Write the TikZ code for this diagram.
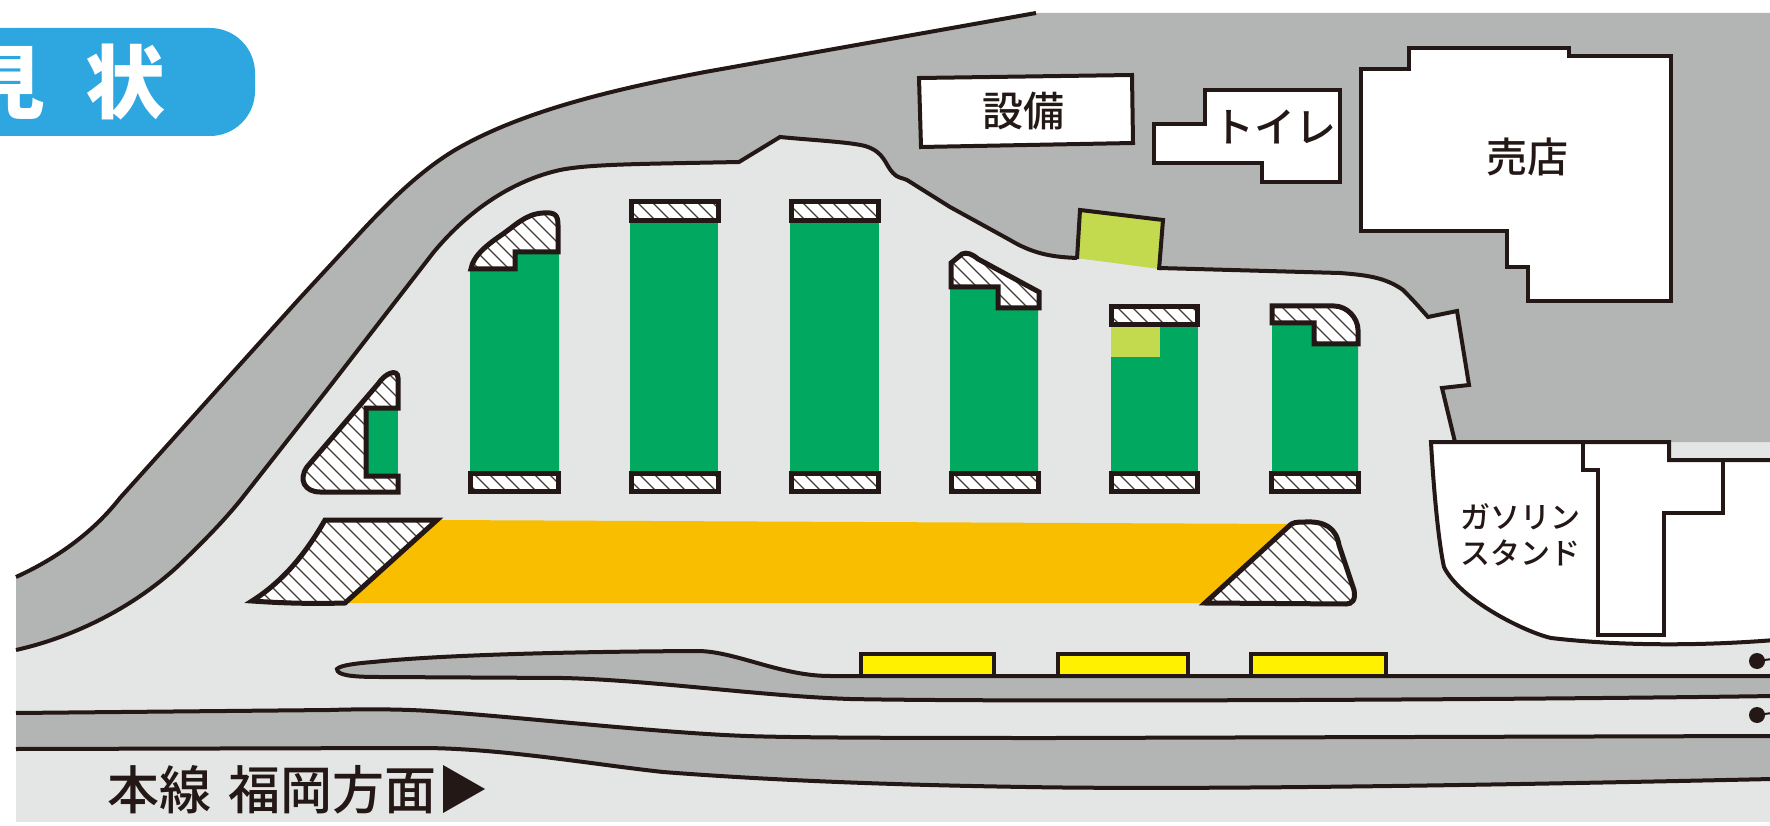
\documentclass[tikz,border=0pt]{standalone}
\usepackage{fontspec}
\setmainfont{Noto Sans CJK JP}
\newfontfamily\heavyjp{Noto Sans CJK JP Medium}
\definecolor{ink}{HTML}{231815}
\definecolor{roadgray}{HTML}{E4E5E5}
\definecolor{islandgray}{HTML}{B3B5B4}
\definecolor{parkgreen}{HTML}{00A95F}
\definecolor{limegreen}{HTML}{C3D94E}
\definecolor{busorange}{HTML}{F9BE00}
\definecolor{signyellow}{HTML}{FFF100}
\definecolor{titleblue}{HTML}{2EA7E0}

\newcommand{\hatched}[1]{
  \fill[white] #1;
  \begin{scope}
    \clip #1;
    \foreach \k in {-200,-185,...,1300} {
      \draw[hatchline] (\k,190) -- (\k+420,610);
    }
  \end{scope}
  \draw[outline, line width=5pt] #1;
}

\begin{document}
\begin{tikzpicture}[x=1pt, y=-1pt,
    outline/.style = {draw=ink, line width=4pt, line join=miter},
    hatchline/.style = {draw=ink!85, line width=1.3pt},
    building/.style = {outline, fill=white},
    lot/.style = {fill=parkgreen},
    roadtext/.style = {text=ink, inner sep=0pt, font=\fontsize{52}{52}\heavyjp},
    bldtext/.style = {text=ink, inner sep=0pt, font=\fontsize{41}{41}\heavyjp},
    smalltext/.style = {text=ink, inner sep=0pt, align=center, font=\fontsize{30}{36}\heavyjp}]

  \useasboundingbox (0,0) rectangle (1770,826);

  % outlines of the road islands
  \def\outerline{(1036,13) -- (705,72) .. controls (610,90) and (520,112) .. (455,150) .. controls (425,168) and (395,195) .. (360,233) -- (300,298) -- (217,390) -- (120,498) .. controls (95,530) and (60,557) .. (16,577)}
  \def\innerleft{(16,650) .. controls (70,638) and (130,610) .. (177,567) .. controls (200,545) and (225,520) .. (243,497) -- (327,390) -- (433,253) .. controls (470,208) and (515,180) .. (560,170) .. controls (590,164) and (640,164) .. (739,162) -- (780,137) .. controls (810,140) and (850,142) .. (865,146) .. controls (885,152) and (885,165) .. (893,173) .. controls (897,178) and (903,178) .. (907,180) -- (950,207) -- (1010,240) .. controls (1035,255) and (1055,257) .. (1077,258)}
  \def\innerright{(1159,268) -- (1340,273) .. controls (1365,275) and (1385,277) .. (1403,290) .. controls (1413,300) and (1420,308) .. (1428,317) -- (1457,311) -- (1469,385) -- (1442,388) -- (1455,442)}

  \fill[roadgray] (16,13) rectangle (1770,822);
  \fill[white] (16,13) -- \outerline -- cycle;
  \fill[islandgray] \innerleft -- \innerright -- (1772,442) -- (1772,13) -- \outerline -- cycle;
  \draw[outline] \outerline;
  \draw[outline] \innerleft;
  \draw[outline] \innerright;

  % square beside the path
  \fill[limegreen] (1080,210) -- (1163,220) -- (1159,269) -- (1077,258) -- cycle;
  \draw[outline] (1077,259) -- (1080,210) -- (1163,220) -- (1159,270);

  % buildings
  \draw[building] (919,78) -- (1132,75) -- (1133,143) -- (921,147) -- cycle;
  \draw[building] (1205,90) -- (1340,90) -- (1340,182) -- (1262,182) -- (1262,163) -- (1154,163) -- (1154,124) -- (1205,124) -- cycle;
  \draw[building] (1409,48) -- (1569,48) -- (1569,56) -- (1671,56) -- (1671,301) -- (1528,301) -- (1528,267) -- (1507,267) -- (1507,231) -- (1361,231) -- (1361,69) -- (1409,69) -- cycle;
  \draw[building] (1431,442) -- (1669,442) -- (1669,460) -- (1775,460) -- (1775,640)
    .. controls (1700,646) and (1620,646) .. (1551,638) .. controls (1525,632) and (1460,600) .. (1444,567) .. controls (1438,540) and (1433,480) .. (1431,442) -- cycle;
  \draw[outline] (1583,442) -- (1583,470) -- (1598,470) -- (1598,635) -- (1664,635) -- (1664,513) -- (1723,513) -- (1723,460);

  % parking lots
  \fill[lot] (366,408) rectangle (398,476);
  \fill[lot] (470,269) -- (515,269) -- (515,252) -- (559,252) -- (559,471) -- (470,471) -- cycle;
  \fill[lot] (630,221) rectangle (718,471);
  \fill[lot] (790,221) rectangle (879,471);
  \fill[lot] (950,287) -- (998,287) -- (998,309) -- (1038,309) -- (1038,471) -- (950,471) -- cycle;
  \fill[lot] (1111,325) rectangle (1198,471);
  \fill[limegreen] (1111,327) rectangle (1160,357);
  \fill[lot] (1272,323) -- (1314,323) -- (1314,344) -- (1358,344) -- (1358,471) -- (1272,471) -- cycle;
  \fill[busorange] (437,520) -- (1292,524) -- (1204,603) -- (345,603) -- cycle;

  % hatched strips
  \foreach \xa/\xb in {470/558,631/718,791/878,951/1038,1111/1197,1271/1358} {
    \hatched{(\xa,473) rectangle (\xb,491)}
  }
  \hatched{(631,202) rectangle (718,221)}
  \hatched{(791,202) rectangle (878,221)}
  \hatched{(1111,307) rectangle (1197,325)}
  \hatched{(398,378) -- (398,408) -- (366,408) -- (366,476) -- (398,476) -- (398,492) -- (320,492) .. controls (305,492) and (298,480) .. (307,467) -- (378,384) .. controls (385,373) and (398,368) .. (398,378) -- cycle}
  \hatched{(471,269) .. controls (473,255) and (490,243) .. (500,236) .. controls (515,226) and (525,214) .. (543,213) .. controls (555,212) and (558,215) .. (558,225) -- (558,252) -- (515,252) -- (515,269) -- cycle}
  \hatched{(951,287) -- (951,263) -- (962,254) .. controls (967,252) and (972,254) .. (978,259) -- (1039,292) -- (1039,308) -- (998,308) -- (998,287) -- cycle}
  \hatched{(1272,306) -- (1334,306) .. controls (1347,306) and (1358,318) .. (1358,330) -- (1358,344) -- (1314,344) -- (1314,323) -- (1272,323) -- cycle}
  \hatched{(325,520) -- (437,520) -- (345,603) .. controls (310,604) and (280,603) .. (252,601) .. controls (282,582) and (305,555) .. (325,520) -- cycle}
  \hatched{(1205,603) -- (1288,527) .. controls (1292,522) and (1297,522) .. (1305,522) .. controls (1325,521) and (1336,528) .. (1339,545) -- (1354,590) .. controls (1356,600) and (1352,604) .. (1346,604) -- cycle}

  % yellow stalls
  \draw[outline, fill=signyellow, line width=3.5pt] (861,676) -- (861,654) -- (994,654) -- (994,676);
  \draw[outline, fill=signyellow, line width=3.5pt] (1058,676) -- (1058,654) -- (1188,654) -- (1188,676);
  \draw[outline, fill=signyellow, line width=3.5pt] (1251,676) -- (1251,654) -- (1386,654) -- (1386,676);

  % median island and lower road band
  \draw[outline, fill=islandgray] (337,669) .. controls (340,665) and (360,663) .. (373,662) .. controls (420,657) and (520,652) .. (697,651) .. controls (735,651) and (780,676) .. (830,676) -- (1775,676) -- (1775,696) .. controls (1500,700) and (1000,702) .. (850,699) .. controls (760,696) and (650,680) .. (563,678) -- (380,677) .. controls (350,677) and (337,675) .. (337,669) -- cycle;
  \def\bandtop{(16,713) -- (330,710) .. controls (360,709) and (400,709) .. (430,711) .. controls (520,717) and (660,733) .. (747,736) .. controls (800,738) and (950,738) .. (1054,738) -- (1772,736)}
  \def\bandbottom{(1772,779) .. controls (1500,785) and (1200,790) .. (1026,787) .. controls (900,785) and (780,781) .. (663,772) .. controls (590,764) and (500,748) .. (420,748) -- (16,749)}
  \fill[islandgray] \bandtop -- \bandbottom -- cycle;
  \draw[outline] \bandtop;
  \draw[outline] \bandbottom;

  % posts at the right edge
  \fill[ink] (1757,661) circle (8);
  \fill[ink] (1757,715) circle (8);
  \draw[ink, line width=2pt] (1757,661) -- (1772,659);
  \draw[ink, line width=2pt] (1757,715) -- (1772,713);

  % title tab and texts
  \fill[titleblue, rounded corners=45pt] (-60,28) rectangle (255,136);
  \node[anchor=east, text=white, inner sep=0pt, font=\fontsize{80}{80}\selectfont\bfseries] (title) at (166,82) {見\hspace{.5em}状};
  \node[bldtext] (equip) at (1023,111) {設備};
  \node[bldtext] (toilet) at (1275,127) {トイレ};
  \node[bldtext] (shop) at (1527,157) {売店};
  \node[smalltext] (gas) at (1520,535) {ガソリン\\スタンド};
  \node[roadtext, anchor=west] (mainroad) at (107,790) {本線\hspace{.33em}福岡方面};
  \fill[ink] (443,765) -- (485,789) -- (443,813) -- cycle;
\end{tikzpicture}
\end{document}
